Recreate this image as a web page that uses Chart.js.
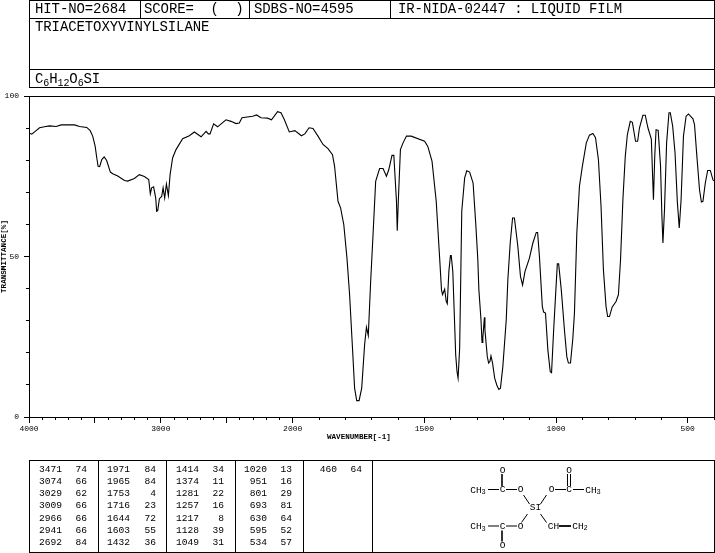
<!DOCTYPE html>
<html>
<head>
<meta charset="utf-8">
<title>TRIACETOXYVINYLSILANE</title>
<script src="https://cdn.jsdelivr.net/npm/chart.js@4"></script>
<style>
html,body{margin:0;padding:0;background:#fff;width:715px;height:553px;overflow:hidden}
#wrap{position:relative;width:715px;height:553px;font-family:"Liberation Mono",monospace;color:#000}
canvas{position:absolute;left:0;top:0}
.box{position:absolute;border:1px solid #000;box-sizing:border-box}
.vl{position:absolute;width:1px;background:#000}
.hl{position:absolute;height:1px;background:#000}
.t{position:absolute;white-space:pre;font-size:14px;line-height:14px;letter-spacing:-.1px}
.t sub{font-size:10px;line-height:0;vertical-align:-3px}
.n{position:absolute;font-size:9.6px;line-height:10px;text-align:right;white-space:pre}
#xt{position:absolute;left:327px;top:433px;font-size:7.6px;line-height:8px;font-weight:bold;white-space:pre}
svg{position:absolute;left:0;top:0}
svg text{font-family:"Liberation Mono",monospace;font-size:9.5px;text-anchor:middle;dominant-baseline:central}
svg line{stroke:#000;stroke-width:1}
</style>
</head>
<body>
<div id="wrap">
<canvas id="c" width="715" height="553"></canvas>
<div class="box" style="left:29px;top:0;width:686px;height:88px"></div>
<div class="hl" style="left:29px;top:18px;width:686px"></div>
<div class="hl" style="left:29px;top:69px;width:686px"></div>
<div class="vl" style="left:140px;top:0;height:18px"></div>
<div class="vl" style="left:249px;top:0;height:18px"></div>
<div class="vl" style="left:390px;top:0;height:18px"></div>
<div class="t" style="left:35px;top:2px">HIT-NO=2684</div>
<div class="t" style="left:144px;top:2px">SCORE=  (  )</div>
<div class="t" style="left:254px;top:2px">SDBS-NO=4595</div>
<div class="t" style="left:398px;top:2px">IR-NIDA-02447 : LIQUID FILM</div>
<div class="t" style="left:35px;top:20px">TRIACETOXYVINYLSILANE</div>
<div class="t" style="left:35px;top:72px">C<sub>6</sub>H<sub>12</sub>O<sub>6</sub>SI</div>
<div id="xt">WAVENUMBER[-1]</div>
<div class="box" id="tb" style="left:29px;top:460px;width:686px;height:93px"></div>
<svg width="715" height="553">
<text x="478" y="490">CH<tspan font-size="7" dy="2">3</tspan></text>
<line x1="488" y1="489.5" x2="499" y2="489.5"/>
<text x="502.5" y="489.5">C</text>
<line x1="506" y1="489.5" x2="517" y2="489.5"/>
<text x="520.5" y="489.5">O</text>
<line x1="502" y1="474" x2="502" y2="486" style="stroke-width:1.6"/>
<text x="502.5" y="470">O</text>
<line x1="523.5" y1="495" x2="529.5" y2="504"/>
<text x="535.5" y="507.5">SI</text>
<line x1="546.5" y1="495" x2="540.5" y2="504"/>
<text x="551.5" y="489.5">O</text>
<line x1="555" y1="489.5" x2="566" y2="489.5"/>
<text x="569" y="489.5">C</text>
<line x1="567.5" y1="474" x2="567.5" y2="486"/>
<line x1="570.5" y1="474" x2="570.5" y2="486"/>
<text x="569" y="470">O</text>
<line x1="573" y1="489.5" x2="584" y2="489.5"/>
<text x="593" y="490">CH<tspan font-size="7" dy="2">3</tspan></text>
<line x1="527.5" y1="514" x2="521.5" y2="522.5"/>
<text x="520.5" y="526">O</text>
<line x1="506" y1="526" x2="517" y2="526"/>
<text x="502.5" y="526">C</text>
<line x1="488" y1="526" x2="499" y2="526"/>
<text x="478" y="526.5">CH<tspan font-size="7" dy="2">3</tspan></text>
<line x1="502" y1="530.5" x2="502" y2="541.5" style="stroke-width:1.6"/>
<text x="502.5" y="545.5">O</text>
<line x1="540.5" y1="514" x2="546.5" y2="522.5"/>
<text x="553.5" y="526">CH</text>
<line x1="559" y1="526" x2="571" y2="526" style="stroke-width:1.8"/>
<text x="580" y="526">CH<tspan font-size="7" dy="2">2</tspan></text>
</svg>
</div>
<script>
const waveNumbers = [4000,3979,3953,3920,3883,3845,3794,3756,3655,3617,3562,3536,3517,3498,3486,3476,3464,3448,3430,3411,3383,3365,3327,3276,3251,3201,3163,3125,3092,3080,3070,3055,3039,3032,3024,3011,2994,2983,2971,2958,2943,2930,2911,2885,2835,2784,2746,2695,2657,2640,2627,2600,2570,2506,2468,2430,2405,2385,2304,2274,2241,2191,2161,2115,2089,2064,2026,1992,1967,1954,1938,1923,1904,1885,1866,1849,1841,1828,1818,1806,1794,1784,1773,1765,1757,1748,1738,1727,1720,1713,1704,1695,1685,1670,1657,1644,1635,1623,1616,1606,1603,1599,1591,1581,1568,1550,1499,1487,1471,1455,1442,1435,1431,1423,1417,1413,1407,1401,1398,1392,1381,1376,1372,1366,1358,1347,1339,1328,1315,1305,1297,1293,1285,1281,1278,1272,1270,1261,1256,1251,1247,1241,1233,1224,1217,1211,1202,1189,1183,1174,1165,1158,1145,1135,1127,1118,1101,1088,1075,1070,1063,1052,1047,1040,1031,1022,1017,1009,1002,995,990,980,968,959,953,945,936,930,921,911,900,885,873,860,850,839,829,820,810,804,797,787,772,763,755,746,737,729,718,710,698,690,683,670,661,651,638,634,630,625,620,612,603,598,594,588,580,571,566,557,548,539,532,525,516,506,497,480,474,465,455,448,442,433,424,414,404,400];
const transmittance = [88.5,88.1,89.0,90.1,90.4,90.7,90.5,91.0,91.0,90.5,90.2,89.2,87.5,84.3,80.7,78.1,78.0,80.2,81.0,79.9,76.3,75.8,75.1,73.7,73.5,74.3,75.5,74.9,74.0,69.5,71.4,71.7,68.2,64.1,64.3,68.0,68.7,71.4,68.2,72.6,69.0,75.5,80.7,83.3,86.7,87.6,88.8,87.3,89.0,88.2,88.2,91.3,90.4,92.6,92.1,91.4,91.6,93.2,93.7,94.1,93.2,93.1,92.6,95.1,94.8,92.7,88.8,89.2,87.6,88.2,90.1,89.9,87.5,84.9,83.6,81.7,78.1,67.2,65.1,59.9,49.5,38.1,21.4,9.0,5.1,5.1,9.0,22.5,28.0,25.4,42.2,56.8,73.4,77.4,77.4,75.0,77.1,81.5,81.5,67.2,58.0,67.2,83.3,85.4,87.5,87.5,85.9,84.3,79.7,67.2,49.5,39.6,38.1,39.8,36.0,35.3,45.3,50.3,50.3,45.3,19.3,14.1,12.1,21.4,64.1,74.5,76.7,76.3,72.9,60.4,49.0,39.6,30.3,23.2,24.6,31.1,27.1,18.8,16.8,17.3,19.0,16.8,12.1,9.7,8.6,9.0,15.7,30.3,42.7,54.2,62.0,62.0,53.1,43.8,41.1,45.3,49.5,54.2,57.5,57.5,50.0,34.4,32.7,32.4,20.9,14.1,13.8,27.1,37.5,47.7,47.7,39.6,27.1,18.8,16.8,16.8,24.6,32.4,57.3,71.9,78.1,85.4,87.8,88.3,87.0,80.2,65.6,45.9,34.4,31.3,31.3,34.2,36.0,38.1,49.0,67.7,81.2,88.0,92.1,91.8,85.9,85.9,90.1,94.0,94.0,90.1,86.6,77.0,67.7,81.2,89.5,89.3,78.1,63.0,54.2,64.6,85.4,94.8,94.8,90.6,82.3,66.7,58.9,67.7,87.5,93.7,94.4,92.9,91.1,81.2,70.8,67.0,67.2,72.9,76.8,76.8,73.9,73.6];

const xMajorTicks = [4000,3500,3000,2500,2000,1500,1000,500];
const xLabelTicks = [4000,3000,2000,1500,1000,500];
const xMinorTicks = [4000,3900,3800,3700,3600,3500,3400,3300,3200,3100,3000,2900,2800,2700,2600,2500,2400,2300,2200,2100,2000,1900,1800,1700,1600,1500,1400,1300,1200,1100,1000,900,800,700,600,500,400];
const yMajorTicks = [0,50,100];
const yMinorTicks = [0,10,20,30,40,50,60,70,80,90,100];

const peakWave = [
 [3471,3074,3029,3009,2966,2941,2692],
 [1971,1965,1753,1716,1644,1603,1432],
 [1414,1374,1281,1257,1217,1128,1049],
 [1020,951,801,693,630,595,534],
 [460]
];
const peakTrans = [
 [74,66,62,66,66,66,84],
 [84,84,4,23,72,55,36],
 [34,11,22,16,8,39,31],
 [13,16,29,81,64,52,57],
 [64]
];

/* Peak table */
const wrap = document.getElementById('wrap');
const colWaveRight = [62,130,199,267,337];
const colTransRight = [87,156,224,292,362];
const dividers = [98,166,235,303,372];
dividers.forEach(x => {
  const d = document.createElement('div');
  d.className = 'vl';
  d.style.cssText = `left:${x}px;top:460px;height:93px`;
  wrap.appendChild(d);
});
peakWave.forEach((col, c) => col.forEach((w, r) => {
  const top = 464.5 + r * 12.25;
  [[w, colWaveRight[c]], [peakTrans[c][r], colTransRight[c]]].forEach(([v, right]) => {
    const s = document.createElement('div');
    s.className = 'n';
    s.textContent = String(v);
    s.style.left = (right - 40) + 'px';
    s.style.width = '40px';
    s.style.top = top + 'px';
    wrap.appendChild(s);
  });
}));

/* Wavenumber axis with the scale change at 2000 */
const BREAK = 2000, HI = 4000, LO = 400, BREAK_FRAC = 0.385;
class IRScale extends Chart.LinearScale {
  getPixelForValue(v) {
    const f = v >= BREAK
      ? (HI - v) / (HI - BREAK) * BREAK_FRAC
      : BREAK_FRAC + (BREAK - v) / (BREAK - LO) * (1 - BREAK_FRAC);
    return this.left + f * this.width;
  }
  getValueForPixel(p) {
    const f = (p - this.left) / this.width;
    return f <= BREAK_FRAC
      ? HI - f / BREAK_FRAC * (HI - BREAK)
      : BREAK - (f - BREAK_FRAC) / (1 - BREAK_FRAC) * (BREAK - LO);
  }
}
IRScale.id = 'irwave';
IRScale.defaults = Chart.LinearScale.defaults;
Chart.register(IRScale);

const axisFont = {family:'"Liberation Mono", monospace', size:8};
const setTicks = list => s => { s.ticks = list.map(v => ({value:v})); };
const noPad = s => { s.paddingLeft = 0; s.paddingRight = 0; s.paddingTop = 0; s.paddingBottom = 0; };
const frame = {
  id:'frame',
  afterDraw(ch){
    const a = ch.chartArea, g = ch.ctx;
    g.save();
    g.strokeStyle = '#000'; g.lineWidth = 1;
    g.beginPath();
    g.moveTo(Math.round(a.left)+.5, Math.round(a.top)+.5);
    g.lineTo(Math.round(a.right)+.5, Math.round(a.top)+.5);
    g.lineTo(Math.round(a.right)+.5, Math.round(a.bottom)+.5);
    g.stroke();
    g.restore();
  }
};

new Chart(document.getElementById('c'), {
  type:'scatter',
  data:{datasets:[{
    data:waveNumbers.map((w,i)=>({x:w,y:transmittance[i]})),
    showLine:true, borderColor:'#000', borderWidth:1.1, pointRadius:0, tension:0, fill:false
  }]},
  plugins:[frame],
  options:{
    responsive:false, animation:false, devicePixelRatio:1,
    layout:{padding:{top:96,right:1,left:0,bottom:0}},
    plugins:{legend:{display:false},tooltip:{enabled:false}},
    scales:{
      x:{
        type:'irwave', min:LO, max:HI, weight:1,
        afterBuildTicks:setTicks(xMajorTicks),
        afterFit(s){s.height=136;noPad(s);},
        border:{display:true,color:'#000',width:1},
        grid:{drawOnChartArea:false,drawTicks:true,tickLength:6,tickColor:'#000'},
        ticks:{autoSkip:false,maxRotation:0,minRotation:0,padding:1,color:'#000',font:axisFont,
          callback:v=>xLabelTicks.includes(v)?String(v):''}
      },
      xMinor:{
        type:'irwave', axis:'x', position:'bottom', min:LO, max:HI, weight:0,
        afterBuildTicks:setTicks(xMinorTicks),
        afterFit(s){s.height=0;noPad(s);},
        border:{display:false},
        grid:{drawOnChartArea:false,drawTicks:true,tickLength:3,tickColor:'#000'},
        ticks:{autoSkip:false,maxRotation:0,color:'#000',font:axisFont,callback:()=>''}
      },
      y:{
        type:'linear', min:0, max:100, weight:1,
        afterBuildTicks:setTicks(yMajorTicks),
        afterFit(s){s.width=29;noPad(s);},
        border:{display:true,color:'#000',width:1},
        grid:{drawOnChartArea:false,drawTicks:true,tickLength:5,tickColor:'#000'},
        ticks:{autoSkip:false,padding:5,color:'#000',font:axisFont,callback:v=>String(v)},
        title:{display:true,text:'TRANSMITTANCE[%]',color:'#000',padding:0,
          font:{family:'"Liberation Mono", monospace',size:7.6,weight:'bold'}}
      },
      yMinor:{
        type:'linear', axis:'y', position:'left', min:0, max:100, weight:0,
        afterBuildTicks:setTicks(yMinorTicks),
        afterFit(s){s.width=0;noPad(s);},
        border:{display:false},
        grid:{drawOnChartArea:false,drawTicks:true,tickLength:3,tickColor:'#000'},
        ticks:{autoSkip:false,color:'#000',font:axisFont,callback:()=>''}
      }
    }
  }
});
</script>
</body>
</html>
